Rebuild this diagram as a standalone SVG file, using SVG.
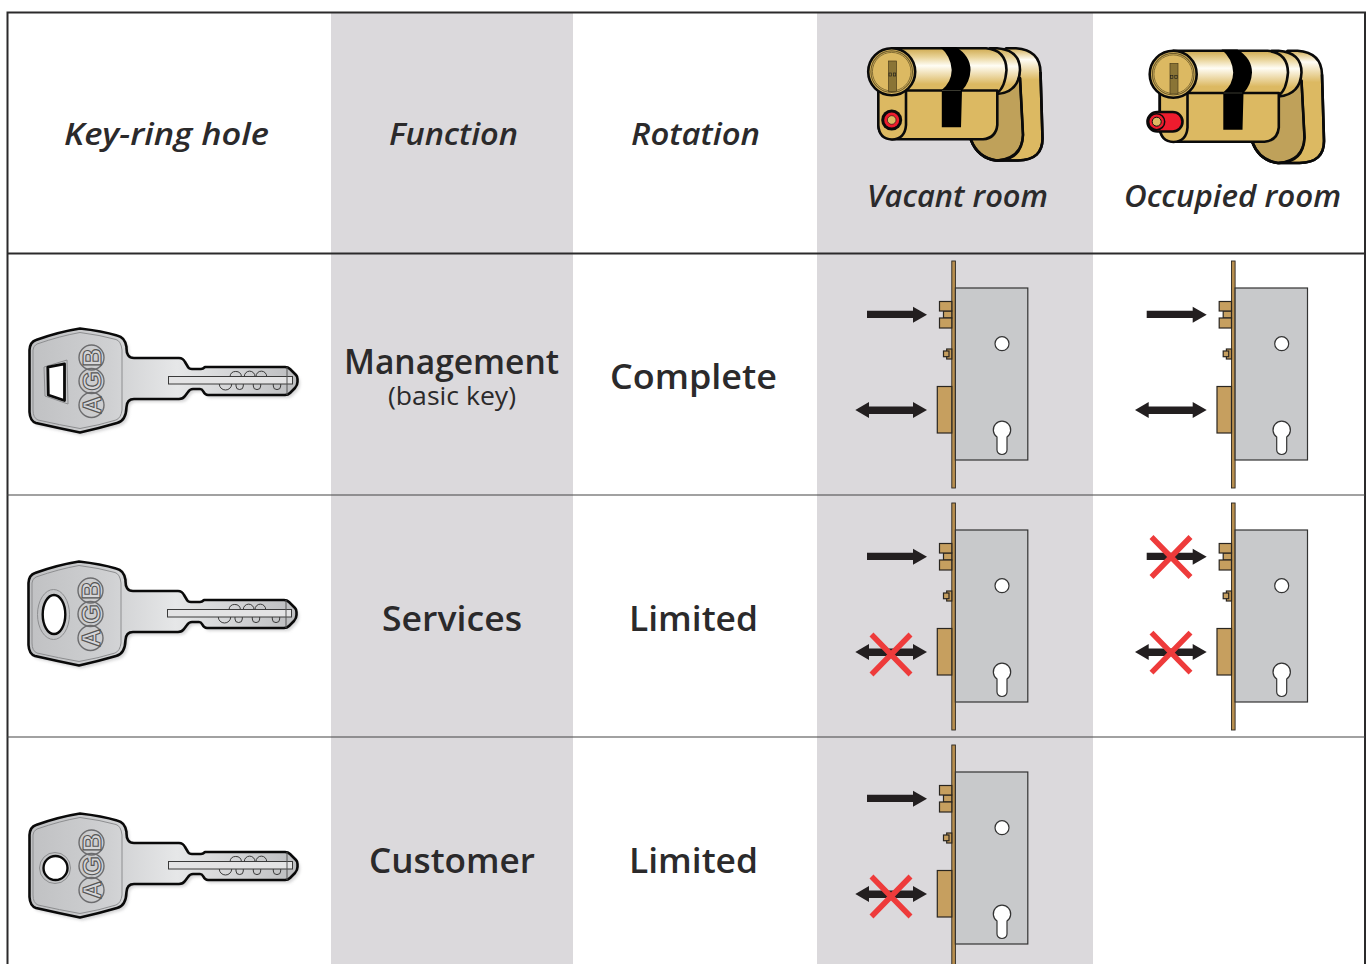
<svg xmlns="http://www.w3.org/2000/svg" xmlns:xlink="http://www.w3.org/1999/xlink" width="1371" height="964" viewBox="0 0 1371 964">
<style>
.t{font-family:"Open Sans","Liberation Sans",sans-serif;fill:#2b2a2b}
.h{font-size:31px;font-style:italic;font-weight:600}
.m{font-size:35px;font-weight:600}
.s{font-size:25px;font-weight:400}
.agb{font-family:"Liberation Sans",sans-serif;font-weight:700;font-size:25px;fill:#d6d6d8;stroke:#565656;stroke-width:1.100;text-anchor:middle}
.brass{fill:#c69f5f;stroke:#2a2620;stroke-width:1.2}
.arrow{fill:#231f20}
.cross{stroke:#ee3b3b;stroke-width:5.5;fill:none}
.ol{stroke:#0a0a0a;stroke-width:2.6;stroke-linejoin:round}
</style>
<defs>
<linearGradient id="metal" x1="0" y1="0" x2="1" y2="0"><stop offset="0" stop-color="#c0c1c3"/><stop offset=".3" stop-color="#cfd0d2"/><stop offset=".55" stop-color="#e6e7e8"/><stop offset=".8" stop-color="#d0d1d3"/><stop offset="1" stop-color="#bcbdbf"/></linearGradient>
<linearGradient id="barrel" x1="0" y1="0" x2="0" y2="1"><stop offset="0" stop-color="#cfaa50"/><stop offset=".2" stop-color="#e9d49a"/><stop offset=".39" stop-color="#fffdf5"/><stop offset=".8" stop-color="#dcb962"/><stop offset="1" stop-color="#dcb962"/></linearGradient>
<linearGradient id="turn" x1="0" y1="0" x2="0" y2="1"><stop offset="0" stop-color="#d3af58"/><stop offset=".1" stop-color="#fffdf5"/><stop offset=".28" stop-color="#dcb962"/><stop offset="1" stop-color="#dcb962"/></linearGradient>
<filter id="blur" x="-10%" y="-10%" width="120%" height="120%"><feGaussianBlur stdDeviation="1.6"/></filter>
<path id="keyout" d="M36 340 Q58 332 80 328.500 Q102 331 117 335.500 Q125 337 126.500 347 Q126 358 134 358 L179 358 Q183 358 185 362 L188 367 Q189 369 192 369 L201 369 Q203 369 205 367 L285 367 Q288 367 290 369 L296 375 Q297.500 376.500 297.500 379 L297.500 382 Q297.500 385 295 388 L290 393 Q288 395 285 395 L208 395 Q205 395 203 391 Q202 389 200 389 L193 389 Q190 389 188 392 L185 396 Q183 399 179 399 L134 399 Q127 399 126.500 407 Q126 421 117 423 Q100 428 80 432.500 Q58 428 36 423 Q30 421 29.500 412 L29.500 350 Q30 342 36 340 Z"/>
<g id="key">
<use xlink:href="#keyout" fill="#b7b7b9" opacity=".6" transform="translate(2.500 3)" filter="url(#blur)"/>
<use xlink:href="#keyout" fill="url(#metal)" stroke="#0a0a0a" stroke-width="2.600" stroke-linejoin="round"/>
<path d="M37 344 Q60 336 80 332.500 Q100 335 116 339.500 Q121 341 122 350 L122 410 Q121 418 116 420 Q100 425 80 428.500 Q60 425 38 420 Q33 418 33 410 L33 350 Q33 346 37 344 Z" fill="none" stroke="#8d8e90" stroke-width="1"/>
<rect x="168.500" y="376.500" width="124" height="7.500" fill="#e3e3e4" stroke="#3a3a3a" stroke-width="1"/>
<path d="M230 376.500 A5.800 5.800 0 0 1 241.500 376.500 M244.300 376.500 A5.300 5.300 0 0 1 255 376.500 M256 376.500 A5.300 5.300 0 0 1 266.700 376.500 M219.300 384 A6.200 6 0 0 0 231.700 384 M236 384 L236 386 A3.600 3.500 0 0 0 243.300 386 L243.300 384 M253.300 384 L253.300 386 A3.600 3.500 0 0 0 260.700 386 L260.700 384 M273.300 384 L273.300 386 A3.600 3.500 0 0 0 280.700 386 L280.700 384" fill="none" stroke="#3a3a3a" stroke-width="1"/>
<path d="M287 367 L287 395" stroke="#555" stroke-width="1" fill="none"/>
<g fill="none" stroke="#6c6c6e" stroke-width="1.400"><circle cx="91.500" cy="357.500" r="12.500"/><circle cx="91.500" cy="381" r="12.500"/><circle cx="91.500" cy="405" r="12.500"/></g>
<text class="agb" transform="translate(100.500 405) rotate(-90)">A</text>
<text class="agb" transform="translate(100.500 381) rotate(-90)">G</text>
<text class="agb" transform="translate(100.500 357.500) rotate(-90)">B</text>
</g>
<g id="lock">
<rect x="951.800" y="261" width="3.600" height="227" fill="#b88f4f" stroke="#2a2620" stroke-width=".9"/>
<rect x="955.400" y="288" width="72.400" height="172" fill="#c8c9cb" stroke="#333" stroke-width="1.200"/>
<circle cx="1002" cy="343.700" r="7" fill="#fff" stroke="#333" stroke-width="1.200"/>
<path d="M997 437 A8.700 8.700 0 1 1 1007 437 L1007 450 A5 4.500 0 0 1 997 450 Z" fill="#fff" stroke="#333" stroke-width="1.200"/>
<rect class="brass" x="943.500" y="311" width="8.300" height="7"/>
<rect class="brass" x="939.500" y="301.500" width="12.300" height="9.500"/>
<rect class="brass" x="939.500" y="318" width="12.300" height="10"/>
<rect class="brass" x="946.700" y="349" width="5.100" height="10"/>
<rect class="brass" x="943.500" y="351" width="5.500" height="5.700"/>
<rect class="brass" x="937.300" y="386.500" width="14.500" height="46.500"/>
</g>
<path id="a1" class="arrow" d="M867 311 L913 311 L913 307 L927 315 L913 323 L913 318.300 L867 318.300 Z" transform="translate(0 -.200)"/>
<path id="a2" class="arrow" d="M855.300 410 L869 402 L869 406.500 L913 406.500 L913 402 L927 410 L913 418 L913 414 L869 414 L869 418 Z"/>
<path id="x" class="cross" d="M-19.500 -20 L19.500 20 M19.500 -20 L-19.500 20"/>
<g id="cyl">
<path class="ol" d="M1006 48.300 L1016 48.300 Q1040 50 1040.500 72 L1042.500 138 Q1043 160 1018 160.500 L996 160.500 Q978 158 971 140 L971 90 Z" fill="url(#turn)"/>
<path class="ol" d="M985 92 L1020 78 L1023 135 Q1022 160 997 160.500 Q978 158 971 140 L971 100 Z" fill="#bfa15a" stroke="none"/>
<path d="M1020 78 L1023 135 Q1022 158 997 160.500" fill="none" stroke="#0a0a0a" stroke-width="2.400"/>
<path d="M1040.500 72 L1042.500 138 Q1043 160 1018 160.500 L996 160.500 Q978 158 971 140" fill="none" stroke="#0a0a0a" stroke-width="2.600"/>
<path class="ol" d="M990 48.300 L997 48.300 Q1020 50 1020 70 Q1019 92 997 94 L985 94 Z" fill="url(#barrel)"/>
<path class="ol" d="M892 48.300 L986 48.300 Q1006 50 1006.500 70 Q1005 88 997 93 L892 93 Z" fill="url(#barrel)"/>
<path class="ol" d="M878.300 88 L878.300 125 Q879 138 893 139.300 L983 139.300 Q996 138 997.300 125 L997.300 90.500 L905 90.500 Z" fill="#dcb962"/>
<path d="M940 47 L956 47 Q970.500 56 970.500 70 Q970 82 962 90.500 L961 127.300 L941.800 127.300 L941.800 90 Q951.500 82 951.700 70 Q951 56 940 47 Z" fill="#000"/>
<rect x="942" y="90" width="18.800" height="1" fill="#3a3a30"/>
<path class="ol" d="M878.300 88 L878.300 125 Q879 139 892 139.500 Q905 139 906 125 L906 88" fill="#dcb962"/>
<circle cx="891.700" cy="71.700" r="23.500" fill="#dcb962" stroke="#0a0a0a" stroke-width="2.600"/>
<circle cx="891.700" cy="71.700" r="20.800" fill="none" stroke="#6f5c2a" stroke-width="1.100"/>
<circle cx="891.700" cy="71.700" r="19.300" fill="none" stroke="#6f5c2a" stroke-width=".8"/>
<rect x="888.500" y="61" width="8" height="30.500" fill="#8a7436" stroke="#4a3d1a" stroke-width=".7"/>
<rect x="889" y="73" width="2.400" height="3" fill="none" stroke="#1a1a1a" stroke-width=".6"/>
<rect x="893.300" y="73" width="2.400" height="3" fill="none" stroke="#1a1a1a" stroke-width=".6"/>
</g>
</defs>

<rect width="1371" height="964" fill="#fff"/>
<g id="bands">
<rect x="331" y="13" width="242" height="951" fill="#dbd9dc"/>
<rect x="817" y="13" width="276" height="951" fill="#dbd9dc"/>
</g>
<g id="grid" fill="none" stroke="#2b2a2b">
<path d="M7.500 964 L7.500 12.500 L1365 12.500 L1365 964" stroke-width="2"/>
<path d="M7 253.500 H1365" stroke-width="2"/>
<path d="M7 495 H1365 M7 737 H1365" stroke-width="1.100" stroke="#444"/>
</g>
<g id="connectors"/>

<g id="header">
<text class="t h" x="64" y="145" textLength="205" lengthAdjust="spacingAndGlyphs">Key-ring hole</text>
<text class="t h" x="389" y="145" textLength="129" lengthAdjust="spacingAndGlyphs">Function</text>
<text class="t h" x="631" y="145" textLength="129" lengthAdjust="spacingAndGlyphs">Rotation</text>
<text class="t h" x="867" y="207" textLength="181" lengthAdjust="spacingAndGlyphs">Vacant room</text>
<text class="t h" x="1124" y="207" textLength="217" lengthAdjust="spacingAndGlyphs">Occupied room</text>
</g>

<g id="cylinder-vacant">
<use xlink:href="#cyl"/>
<circle cx="891.700" cy="120" r="10.500" fill="#0a0a0a"/>
<circle cx="891.700" cy="120" r="7.500" fill="#ee1c2e"/>
<circle cx="891.700" cy="120" r="4.300" fill="#dcb962" stroke="#0a0a0a" stroke-width=".6"/>
</g>
<g id="cylinder-occupied">
<use xlink:href="#cyl" transform="translate(281.500 2.500)"/>
<rect x="1147.500" y="112" width="35" height="19.500" rx="9.700" fill="#ee1c2e" stroke="#0a0a0a" stroke-width="2.600"/>
<circle cx="1156.700" cy="121.700" r="8" fill="#ee1c2e" stroke="#0a0a0a" stroke-width="1.500"/>
<circle cx="1156.700" cy="121.700" r="4.500" fill="#dcb962" stroke="#0a0a0a" stroke-width="1"/>
</g>

<g id="row-management">
<g id="key-management">
<use xlink:href="#key"/>
<path d="M44 367 L67 360 L68 404 L45 396 Z" fill="none" stroke="#8d8e90" stroke-width="1" stroke-linejoin="round"/>
<path d="M47.800 367 L64.500 363.800 L64.500 400.500 L48.300 395 Z" fill="#fff" stroke="#0a0a0a" stroke-width="2.800" stroke-linejoin="round"/>
</g>
<text class="t m" x="344" y="374" textLength="215" lengthAdjust="spacingAndGlyphs">Management</text>
<text class="t s" x="388" y="405" textLength="128" lengthAdjust="spacingAndGlyphs">(basic key)</text>
<text class="t m" x="610" y="389" textLength="167" lengthAdjust="spacingAndGlyphs">Complete</text>
<g id="lock-management-vacant"><use xlink:href="#lock"/><use xlink:href="#a1"/><use xlink:href="#a2"/></g>
<g id="lock-management-occupied" transform="translate(279.700 0)"><use xlink:href="#lock"/><use xlink:href="#a1"/><use xlink:href="#a2"/></g>
</g>

<g id="row-services">
<g id="key-services">
<use xlink:href="#key" transform="translate(-1 233)"/>
<ellipse cx="53.500" cy="614.500" rx="16" ry="25" fill="none" stroke="#8d8e90" stroke-width="1"/>
<ellipse cx="54" cy="614.500" rx="11.300" ry="19.500" fill="#fff" stroke="#0a0a0a" stroke-width="2.400"/>
</g>
<text class="t m" x="382" y="631" textLength="140" lengthAdjust="spacingAndGlyphs">Services</text>
<text class="t m" x="629" y="631" textLength="129" lengthAdjust="spacingAndGlyphs">Limited</text>
<g id="lock-services-vacant" transform="translate(0 242)"><use xlink:href="#lock"/><use xlink:href="#a1"/><use xlink:href="#a2"/><use xlink:href="#x" transform="translate(891 412.500)"/></g>
<g id="lock-services-occupied" transform="translate(279.700 242)"><use xlink:href="#lock"/><use xlink:href="#a1"/><use xlink:href="#a2"/><use xlink:href="#x" transform="translate(891.300 315)"/><use xlink:href="#x" transform="translate(891.300 410.700)"/></g>
</g>

<g id="row-customer">
<g id="key-customer">
<use xlink:href="#key" transform="translate(0 485)"/>
<circle cx="55" cy="868" r="15.500" fill="none" stroke="#8d8e90" stroke-width="1"/>
<circle cx="55.500" cy="868" r="12" fill="#fff" stroke="#0a0a0a" stroke-width="2.400"/>
</g>
<text class="t m" x="369" y="873" textLength="166" lengthAdjust="spacingAndGlyphs">Customer</text>
<text class="t m" x="629" y="873" textLength="129" lengthAdjust="spacingAndGlyphs">Limited</text>
<g id="lock-customer-vacant" transform="translate(0 484)"><use xlink:href="#lock"/><use xlink:href="#a1"/><use xlink:href="#a2"/><use xlink:href="#x" transform="translate(891 412.500)"/></g>
</g>
</svg>
